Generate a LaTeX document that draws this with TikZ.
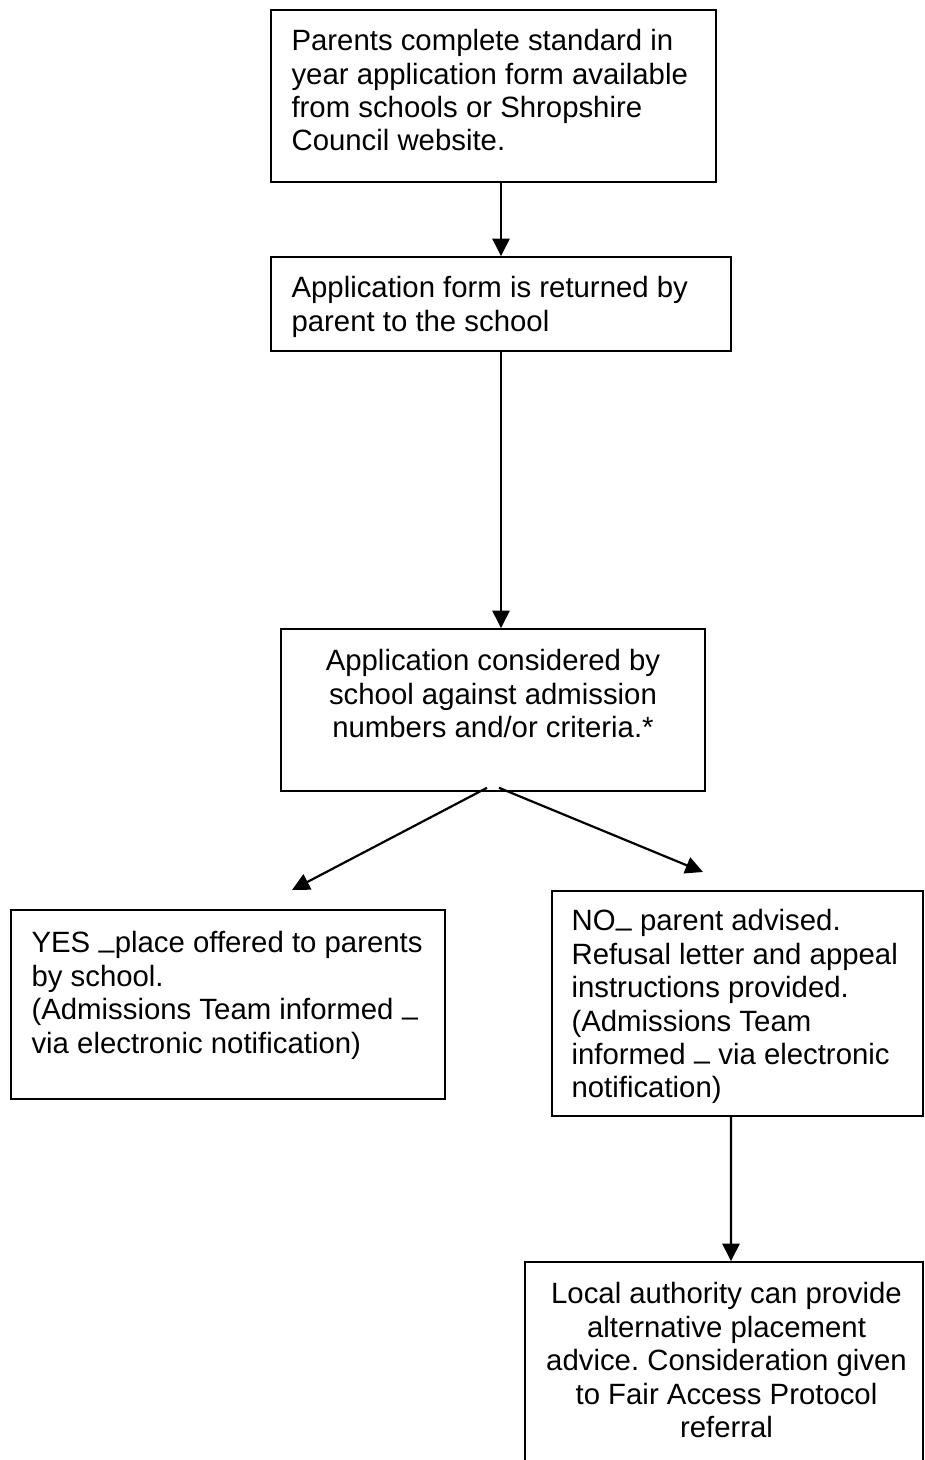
\documentclass[tikz,border=0pt]{standalone}
\usepackage{fontspec}
\setmainfont{Liberation Sans}
\usetikzlibrary{arrows.meta, positioning}
\definecolor{linedark}{RGB}{0, 0, 0}
\newcommand{\lowdash}{\raisebox{-0.22em}{–}}
\frenchspacing

\begin{document}
\begin{tikzpicture}[
    stepbox/.style={rectangle, draw=linedark, line width=0.9pt, inner sep=0pt},
    boxtext/.style={inner sep=0pt, font=\fontsize{16.7}{19}\selectfont, color=linedark},
    arrow/.style={-{Triangle[length=3.5mm, width=3.4mm]}, line width=1.25pt, color=linedark},
]

\clip (0, 0) rectangle (18.5, -29.2);

% Application
\node[stepbox, minimum width=8.9cm, minimum height=3.44cm] (form) at (9.87, -1.92) {};
\node[boxtext, anchor=north west, align=left] (formtext) at ([xshift=0.42cm, yshift=-0.40cm]form.north west) {Parents complete standard in\\year application form available\\from schools or Shropshire\\Council website.};

\node[stepbox, minimum width=9.2cm, minimum height=1.88cm] (return) at (10.02, -6.08) {};
\node[boxtext, anchor=north west, align=left] (returntext) at ([xshift=0.42cm, yshift=-0.40cm]return.north west) {Application form is returned by\\parent to the school};

% Decision
\node[stepbox, minimum width=8.48cm, minimum height=3.24cm] (consider) at (9.86, -14.2) {};
\node[boxtext, anchor=north, align=center] (considertext) at ([yshift=-0.42cm]consider.north) {Application considered by\\school against admission\\numbers and/or criteria.*};

\draw[arrow] (return.north |- form.south) -- (return.north);
\draw[arrow] (return.south) -- (return.south |- consider.north);

% Outcomes
\node[stepbox, minimum width=8.68cm, minimum height=3.78cm] (yes) at (4.56, -20.09) {};
\node[boxtext, anchor=north west, align=left] (yestext) at ([xshift=0.42cm, yshift=-0.44cm]yes.north west) {YES \lowdash place offered to parents\\by school.\\(Admissions Team informed \lowdash\\via electronic notification)};

\node[stepbox, minimum width=7.42cm, minimum height=4.5cm] (no) at (14.75, -20.07) {};
\node[boxtext, anchor=north west, align=left] (notext) at ([xshift=0.40cm, yshift=-0.38cm]no.north west) {NO\lowdash{} parent advised.\\Refusal letter and appeal\\instructions provided.\\(Admissions Team\\informed \lowdash{} via electronic\\notification)};

\coordinate (yestip) at (5.84, -17.8);
\coordinate (notip) at (14.06, -17.44);
\draw[arrow] ([xshift=-0.12cm, yshift=0.08cm]consider.south) -- (yestip);
\draw[arrow] ([xshift=0.12cm, yshift=0.08cm]consider.south) -- (notip);

% Local authority
\node[stepbox, minimum width=7.96cm, minimum height=4.56cm] (local) at (14.48, -27.52) {};
\node[boxtext, anchor=north, align=center] (localtext) at ([xshift=0.05cm, yshift=-0.42cm]local.north) {Local authority can provide\\alternative placement\\advice. Consideration given\\to Fair Access Protocol\\referral};

\draw[arrow] ([xshift=-0.13cm]no.south) -- ([xshift=0.14cm]local.north);

\end{tikzpicture}
\end{document}
